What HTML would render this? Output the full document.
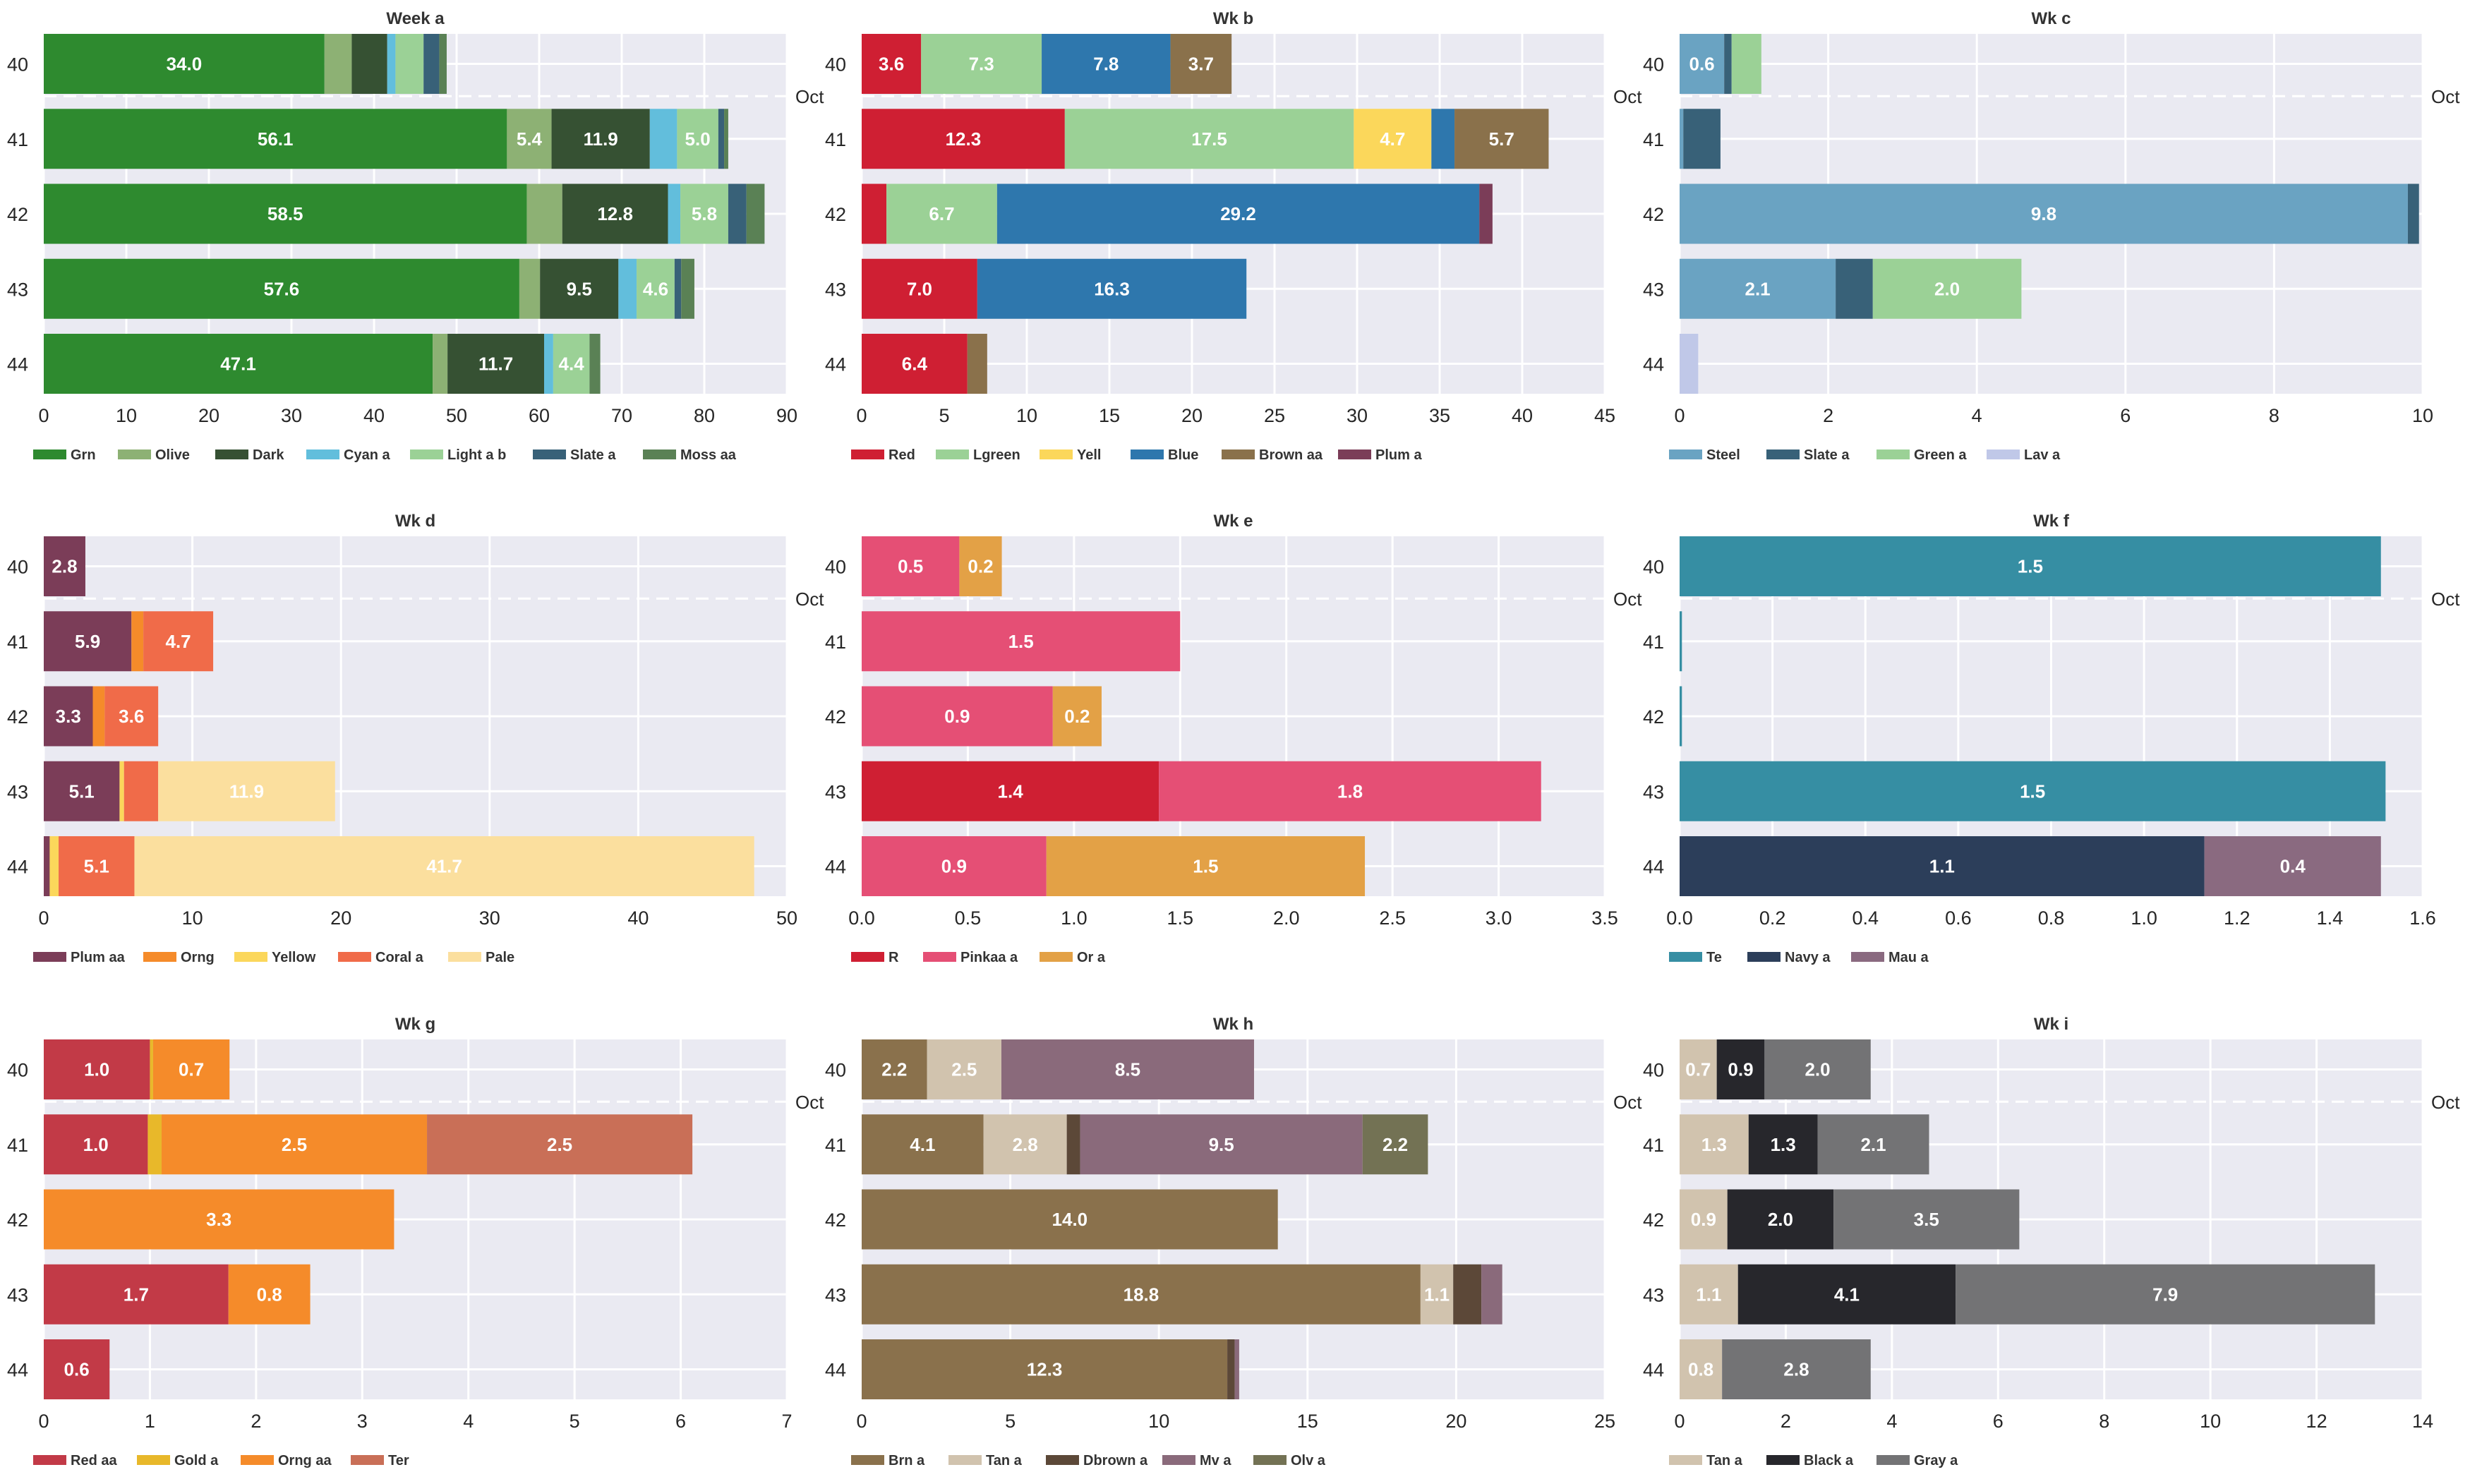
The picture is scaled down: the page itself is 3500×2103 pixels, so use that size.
<!DOCTYPE html>
<html><head><meta charset="utf-8"><style>
body{margin:0;background:#fff;}
svg{display:block;font-family:"Liberation Sans",sans-serif;}
</style></head><body>
<svg id="c" width="3500" height="2103" viewBox="0 0 3500 2103"></svg>
<script>
const cats=["40","41","42","43","44"];
// panel 1
const p1Names=["Grn","Olive","Dark","Cyan a","Light a b","Slate a","Moss aa"];
const p1Colors=["#2e8a2f","#8db174","#365133","#62bedc","#9bd196","#386178","#5a8155"];
const p1Values=[[34.0,56.1,58.5,57.6,47.1],[3.3,5.4,4.3,2.5,1.8],[4.3,11.9,12.8,9.5,11.7],[1.0,3.3,1.5,2.2,1.1],[3.4,5.0,5.8,4.6,4.4],[1.9,0.7,2.2,0.8,0],[0.9,0.5,2.2,1.6,1.3]];
const p1Ticks=[0,10,20,30,40,50,60,70,80,90];
// panel 2
const p2Names=["Red","Lgreen","Yell","Blue","Brown aa","Plum a"];
const p2Colors=["#cf1f33","#9bd196","#fbd75b","#2e77ad","#8a714b","#7b3d58"];
const p2Values=[[3.6,12.3,1.5,7.0,6.4],[7.3,17.5,6.7,0,0],[0,4.7,0,0,0],[7.8,1.4,29.2,16.3,0],[3.7,5.7,0,0,1.2],[0,0,0.8,0,0]];
const p2Ticks=[0,5,10,15,20,25,30,35,40,45];
// panel 3
const p3Names=["Steel","Slate a","Green a","Lav a"];
const p3Colors=["#6aa3c2","#386178","#9bd196","#c0c8e8"];
const p3Values=[[0.6,0.05,9.8,2.1,0],[0.1,0.5,0.15,0.5,0],[0.4,0,0,2.0,0],[0,0,0,0,0.25]];
const p3Ticks=[0,2,4,6,8,10];
// panel 4
const p4Names=["Plum aa","Orng","Yellow","Coral a","Pale"];
const p4Colors=["#7b3d58","#f58b2a","#fbd75b","#f06b49","#fbdf9e"];
const p4Values=[[2.8,5.9,3.3,5.1,0.4],[0,0.8,0.8,0,0],[0,0,0,0.3,0.6],[0,4.7,3.6,2.3,5.1],[0,0,0,11.9,41.7]];
const p4Ticks=[0,10,20,30,40,50];
// panel 5
const p5Names=["R","Pinkaa a","Or a"];
const p5Colors=["#cf1f33","#e54f75","#e3a146"];
const p5Values=[[0,0,0,1.4,0],[0.46,1.5,0.9,1.8,0.87],[0.2,0,0.23,0,1.5]];
const p5Ticks=[0,0.5,1.0,1.5,2.0,2.5,3.0,3.5];
// panel 6
const p6Names=["Te","Navy a","Mau a"];
const p6Colors=["#368ea3","#2c3e5a","#8a6a80"];
const p6Values=[[1.51,0.005,0.005,1.52,0],[0,0,0,0,1.13],[0,0,0,0,0.38]];
const p6Ticks=[0,0.2,0.4,0.6,0.8,1.0,1.2,1.4,1.6];
// panel 7
const p7Names=["Red aa","Gold a","Orng aa","Ter"];
const p7Colors=["#c23a47","#e8b82a","#f58b2a","#c96f57"];
const p7Values=[[1.0,0.98,0,1.74,0.62],[0.03,0.13,0,0,0],[0.72,2.5,3.3,0.77,0],[0,2.5,0,0,0]];
const p7Ticks=[0,1,2,3,4,5,6,7];
// panel 8
const p8Names=["Brn a","Tan a","Dbrown a","Mv a","Olv a"];
const p8Colors=["#8a714c","#d1c3ae","#5c4838","#8a6a7b","#737254"];
const p8Values=[[2.2,4.1,14.0,18.8,12.3],[2.5,2.8,0,1.1,0],[0,0.45,0,0.95,0.25],[8.5,9.5,0,0.7,0.15],[0,2.2,0,0,0]];
const p8Ticks=[0,5,10,15,20,25];
// panel 9
const p9Names=["Tan a","Black a","Gray a"];
const p9Colors=["#d1c3ae","#27272c","#737375"];
const p9Values=[[0.7,1.3,0.9,1.1,0.8],[0.9,1.3,2.0,4.1,0],[2.0,2.1,3.5,7.9,2.8]];
const p9Ticks=[0,2,4,6,8,10,12,14];

const NS="http://www.w3.org/2000/svg";
const svg=document.getElementById('c');
function el(tag,attrs,parent,txt){const e=document.createElementNS(NS,tag);for(const k in attrs)e.setAttribute(k,attrs[k]);if(txt!==undefined)e.textContent=txt;(parent||svg).appendChild(e);return e;}

const colsX=[62,1221,2380], rowsY=[48,760,1473], W=1053, H=510;
const panels=[
 {n:p1Names,c:p1Colors,v:p1Values,t:p1Ticks,d:0,thr:4.35,title:"Week a"},
 {n:p2Names,c:p2Colors,v:p2Values,t:p2Ticks,d:0,thr:3.5,title:"Wk b"},
 {n:p3Names,c:p3Colors,v:p3Values,t:p3Ticks,d:0,thr:0.55,title:"Wk c"},
 {n:p4Names,c:p4Colors,v:p4Values,t:p4Ticks,d:0,thr:2.5,title:"Wk d"},
 {n:p5Names,c:p5Colors,v:p5Values,t:p5Ticks,d:1,thr:0.15,title:"Wk e"},
 {n:p6Names,c:p6Colors,v:p6Values,t:p6Ticks,d:1,thr:0.3,title:"Wk f"},
 {n:p7Names,c:p7Colors,v:p7Values,t:p7Ticks,d:0,thr:0.5,title:"Wk g"},
 {n:p8Names,c:p8Colors,v:p8Values,t:p8Ticks,d:0,thr:1.0,title:"Wk h"},
 {n:p9Names,c:p9Colors,v:p9Values,t:p9Ticks,d:0,thr:0.65,title:"Wk i"}
];

panels.forEach((p,pi)=>{
 const L=colsX[pi%3], T=rowsY[Math.floor(pi/3)];
 const xmax=p.t[p.t.length-1];
 const x=v=>L+v/xmax*W;
 const band=H/4.8;
 const yc=i=>T+(i+0.4)*band;
 const g=el('g',{});
 
 
 const bg=el('rect',{x:L,y:T,width:W,height:H,fill:'#eaeaf2'},g);
 
 
 p.t.forEach(tv=>{
  const gl=el('line',{x1:x(tv),x2:x(tv),y1:T,y2:T+H,stroke:'#fff','stroke-width':3},g);
  
  
  const tl=el('text',{x:x(tv),y:T+H+40,'text-anchor':'middle','font-size':27,fill:'#262626'},g,tv.toFixed(p.d));
  
  
 });
 cats.forEach((c,i)=>{
  const hl=el('line',{x1:L,x2:L+W,y1:yc(i),y2:yc(i),stroke:'#fff','stroke-width':3},g);
  
  
  const yl=el('text',{x:L-22,y:yc(i)+10,'text-anchor':'end','font-size':27,fill:'#262626'},g,c);
  
  
 });
 cats.forEach((c,i)=>{
  let cum=0;
  p.v.forEach((ser,si)=>{
   const val=ser[i];
   if(val>0){
    const r=el('rect',{x:x(cum),y:yc(i)-0.4*band,width:x(cum+val)-x(cum),height:0.8*band,fill:p.c[si]},g);
    
    
    if(val>=p.thr){
     const bl=el('text',{x:(x(cum)+x(cum+val))/2,y:yc(i)+9,'text-anchor':'middle','font-size':26,'font-weight':'bold',fill:'#fff'},g,val.toFixed(1));
     
     
    }
   }
   cum+=val;
  });
 });
 const dy=yc(0)+0.43*band;
 const dl=el('line',{x1:L,x2:L+W,y1:dy,y2:dy,stroke:'#fff','stroke-width':3,'stroke-dasharray':'18,10'},g);
 
 
 const ol=el('text',{x:L+W+12,y:dy+10,'font-size':26,fill:'#262626'},g,'Oct');
 
 
 const tt=el('text',{x:L+W/2,y:T-14,'text-anchor':'middle','font-size':24,'font-weight':'bold',fill:'#333'},g,p.title);
 
 
 let lx=L-15;
 const ly=T+H+86;
 p.n.forEach((nm,si)=>{
  const sw=el('rect',{x:lx,y:ly-7,width:47,height:14,fill:p.c[si]},g);
  
  
  const lt=el('text',{x:lx+53,y:ly+7,'font-size':20,'font-weight':'bold',fill:'#333'},g,nm);
  
  
  lx+=53+nm.length*9+40;
 });
});
</script>
</body></html>
